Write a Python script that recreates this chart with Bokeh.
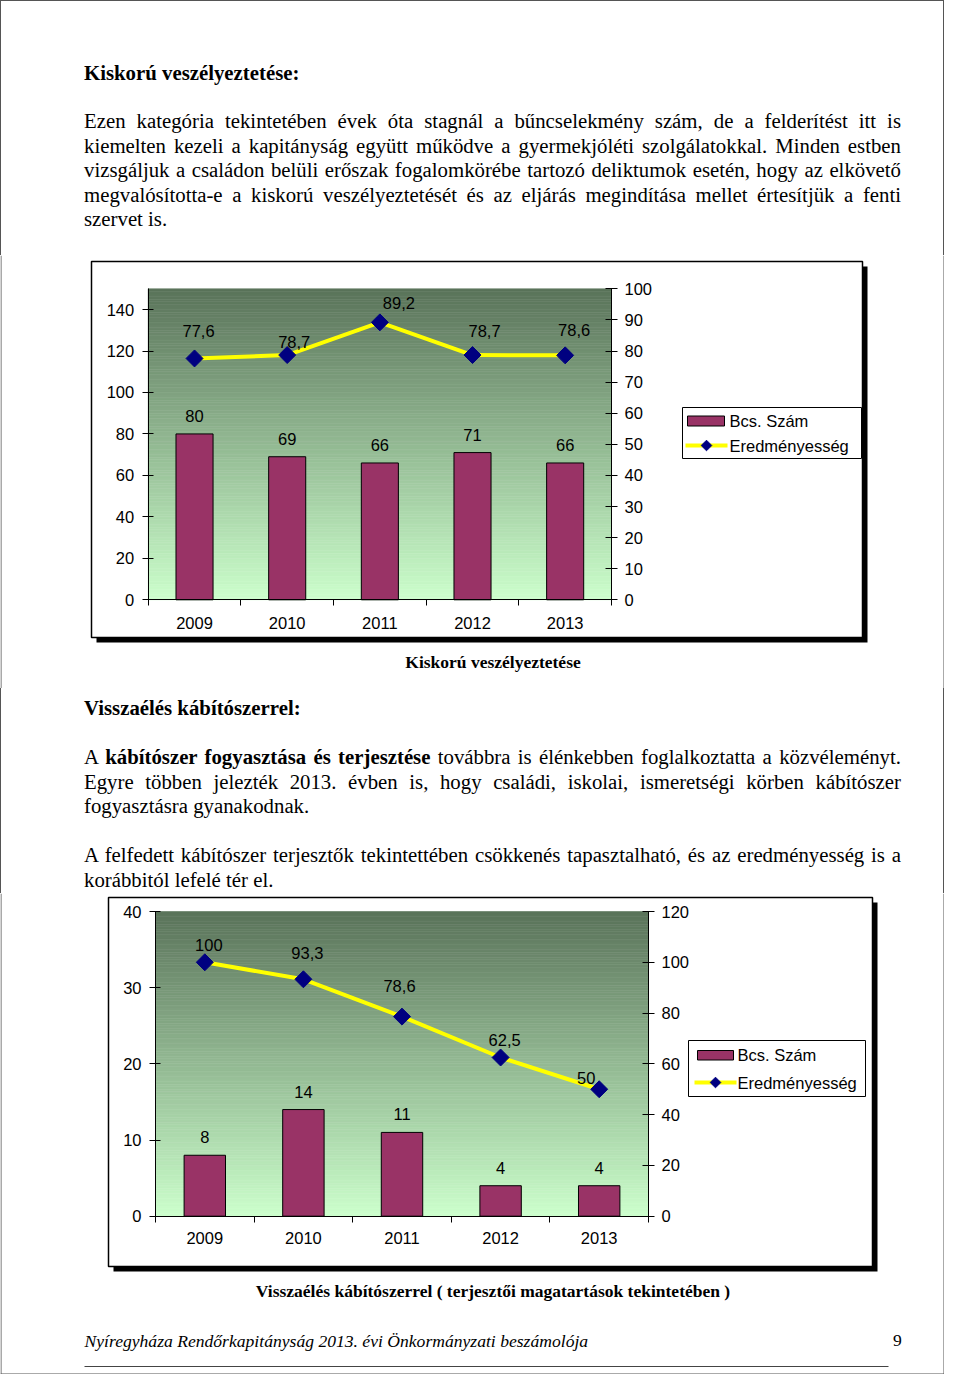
import numpy as np
from bokeh.plotting import figure
from bokeh.models import Range1d, LinearAxis, FixedTicker, Div, ColumnDataSource
from bokeh.layouts import column
from bokeh.core.properties import value
from bokeh.embed import file_html
from bokeh.resources import INLINE

# ---------------- data ----------------
years = ["2009", "2010", "2011", "2012", "2013"]
series_names = ["Bcs. Szám", "Eredményesség"]

kiskoru_bcs = [80, 69, 66, 71, 66]
kiskoru_eredm = [77.6, 78.7, 89.2, 78.7, 78.6]
kiskoru_left_max = 150
kiskoru_left_ticks = [0, 20, 40, 60, 80, 100, 120, 140]
kiskoru_right_max = 100
kiskoru_right_ticks = [0, 10, 20, 30, 40, 50, 60, 70, 80, 90, 100]

kabito_bcs = [8, 14, 11, 4, 4]
kabito_eredm = [100, 93.3, 78.6, 62.5, 50]
kabito_left_max = 40
kabito_left_ticks = [0, 10, 20, 30, 40]
kabito_right_max = 120
kabito_right_ticks = [0, 20, 40, 60, 80, 100, 120]

caption1 = "Kiskorú veszélyeztetése"
caption2 = "Visszaélés kábítószerrel ( terjesztői magatartások tekintetében )"
footer_text = "Nyíregyháza Rendőrkapitányság 2013. évi Önkormányzati beszámolója"
page_no = "9"

# ---------------- styles ----------------
PLUM = "#993366"
YELLOW = "#FFFF00"
NAVY = "#000080"
SANS = "Liberation Sans"
SERIF = "Liberation Serif"
FS = "16.5px"
GRAD_TOP = (90, 115, 90)
GRAD_BOTTOM = (204, 255, 204)
PAGE_W = 944
PAGE_H = 1374
BORDER = "#555555"


def fmt(v):
    return ("%g" % v).replace(".", ",")


def span_range(v0, p0, v1, p1, q0, q1):
    k = (v1 - v0) / (p1 - p0)
    return Range1d(start=v0 + (q0 - p0) * k, end=v0 + (q1 - p0) * k)


def style_axis(ax):
    ax.axis_line_color = "black"
    ax.axis_line_width = 1
    ax.major_tick_line_color = "black"
    ax.major_tick_line_width = 1
    ax.minor_tick_line_color = None
    ax.major_label_text_font = SANS
    ax.major_label_text_font_size = FS
    ax.major_label_text_color = "black"


def make_chart(L, bcs, eredm, lmax, lticks, rmax, rticks, caption, extra=None):
    top, bot = L["fig"]
    p = figure(width=PAGE_W, height=bot - top,
               x_range=Range1d(0, PAGE_W), y_range=Range1d(bot, top),
               x_axis_type=None, y_axis_type=None, toolbar_location=None,
               output_backend="svg", min_border=0, outline_line_color=None,
               border_fill_color="white", background_fill_color="white")
    pl, pr, pt, pb = L["plot"]
    n = len(years)
    p.extra_x_ranges = {"cat": span_range(0, pl, n, pr, 0, PAGE_W)}
    p.extra_y_ranges = {"left": span_range(0, pb, lmax, pt, bot, top),
                        "right": span_range(0, pb, rmax, pt, bot, top)}

    # page side borders
    p.segment(x0=[0.5, PAGE_W - 0.5], y0=[top, top], x1=[0.5, PAGE_W - 0.5],
              y1=[bot, bot], line_color=BORDER, line_width=1)

    # chart box with shadow
    bl, br, bt, bb = L["box"]
    s = L["shadow"]
    p.quad(left=bl + s, right=br + s, top=bt + s, bottom=bb + s,
           fill_color="black", line_color=None)
    p.quad(left=bl, right=br, top=bt, bottom=bb, fill_color="white",
           line_color="black", line_width=1.5)

    # plot-area gradient
    N = 120
    edges = np.linspace(pt, pb, N + 1)
    t = (np.arange(N) + 0.5) / N
    cols = ["#%02x%02x%02x" % tuple(int(round(a + (b - a) * ti))
                                    for a, b in zip(GRAD_TOP, GRAD_BOTTOM)) for ti in t]
    p.quad(left=pl, right=pr, top=edges[:-1], bottom=edges[1:],
           fill_color=cols, line_color=cols, line_width=0.6)

    xs = np.arange(n) + 0.5
    src = ColumnDataSource(dict(
        x=xs, bcs=bcs, er=eredm,
        bl=[fmt(v) for v in bcs], el=[fmt(v) for v in eredm],
        dx=L["line_lbl_dx"], dy=L["line_lbl_dy"]))

    p.vbar(x="x", top="bcs", bottom=0, width=L["bar_w"], source=src,
           fill_color=PLUM, line_color="black", line_width=1,
           x_range_name="cat", y_range_name="left")
    p.line(x="x", y="er", source=src, line_color=YELLOW, line_width=4,
           x_range_name="cat", y_range_name="right")
    p.scatter(x="x", y="er", source=src, marker="square", angle=np.pi / 4,
              size=12, fill_color=NAVY, line_color=NAVY,
              x_range_name="cat", y_range_name="right")

    p.text(x="x", y="bcs", text="bl", source=src, y_offset=L["bar_lbl_dy"],
           text_align="center", text_baseline="middle",
           text_font=value(SANS), text_font_size=FS, text_color="black",
           x_range_name="cat", y_range_name="left")
    p.text(x="x", y="er", text="el", source=src, x_offset="dx", y_offset="dy",
           text_align="center", text_baseline="middle",
           text_font=value(SANS), text_font_size=FS, text_color="black",
           x_range_name="cat", y_range_name="right")

    # axes
    ya = LinearAxis(y_range_name="left", fixed_location=pl, bounds=(0, lmax),
                    ticker=FixedTicker(ticks=lticks),
                    major_tick_in=5, major_tick_out=6, major_label_standoff=8)
    style_axis(ya)
    p.add_layout(ya, "left")
    yr = LinearAxis(y_range_name="right", fixed_location=pr, bounds=(0, rmax),
                    ticker=FixedTicker(ticks=rticks),
                    major_tick_in=6, major_tick_out=6, major_label_standoff=7)
    style_axis(yr)
    p.add_layout(yr, "right")
    xa = LinearAxis(x_range_name="cat", fixed_location=pb, bounds=(0, n),
                    ticker=FixedTicker(ticks=list(range(n + 1))),
                    major_tick_in=0, major_tick_out=6)
    style_axis(xa)
    xa.major_label_text_color = None
    p.add_layout(xa, "below")
    xl = LinearAxis(x_range_name="cat", fixed_location=pb,
                    ticker=FixedTicker(ticks=[float(v) for v in xs]),
                    major_label_overrides={float(v): yy for v, yy in zip(xs, years)},
                    major_tick_in=0, major_tick_out=0,
                    major_label_standoff=L["cat_standoff"])
    style_axis(xl)
    xl.axis_line_color = None
    xl.major_tick_line_color = None
    p.add_layout(xl, "below")

    # legend (Excel-like, right of plot area)
    lg = L["legend"]
    l0, l1, lt, lb = lg["box"]
    p.quad(left=l0, right=l1, top=lt, bottom=lb, fill_color="white",
           line_color="black", line_width=1)
    r0, r1, rt, rb = lg["rect"]
    p.quad(left=r0, right=r1, top=rt, bottom=rb, fill_color=PLUM,
           line_color="black", line_width=1)
    x0, x1, ly = lg["line"]
    p.segment(x0=[x0], y0=[ly], x1=[x1], y1=[ly], line_color=YELLOW, line_width=4)
    p.scatter(x=[(x0 + x1) / 2], y=[ly], marker="square", angle=np.pi / 4,
              size=7.5, fill_color=NAVY, line_color=NAVY)
    p.text(x=[lg["tx"], lg["tx"]], y=[(rt + rb) / 2, ly], text=series_names,
           text_font=value(SANS), text_font_size=FS, text_baseline="middle",
           text_align="left", text_color="black")

    # caption
    cx, cy = L["caption_xy"]
    p.text(x=[cx], y=[cy], text=[caption], text_font=value(SERIF),
           text_font_style="bold", text_font_size="17.5px",
           text_align="center", text_baseline="middle", text_color="black")
    if extra:
        extra(p)
    return p


LAYOUT1 = dict(
    fig=(255, 688),
    box=(91, 862, 261, 637), shadow=5,
    plot=(147.7, 611, 288.3, 599.3),
    bar_w=0.4, bar_lbl_dy=-17.5,
    line_lbl_dx=[4, 7, 19, 12, 9], line_lbl_dy=[-27, -13, -19, -24, -25],
    cat_standoff=17,
    legend=dict(box=(682, 861, 407, 458), rect=(687, 724, 415.5, 425.5),
                line=(685, 727, 445), tx=729),
    caption_xy=(492.5, 661),
)

LAYOUT2 = dict(
    fig=(893, PAGE_H),
    box=(108, 872, 897, 1266), shadow=5,
    plot=(155, 648, 911, 1215.7),
    bar_w=0.42, bar_lbl_dy=-18,
    line_lbl_dx=[4, 4, -2.5, 4, -13], line_lbl_dy=[-17, -26, -31, -17.5, -11],
    cat_standoff=16,
    legend=dict(box=(688, 865, 1040, 1096), rect=(697, 733, 1050, 1059.5),
                line=(694, 736, 1082), tx=737),
    caption_xy=(492.5, 1290),
)


def footer(p):
    p.text(x=[84], y=[1340], text=[footer_text], text_font=value(SERIF),
           text_font_style="italic", text_font_size="17.6px",
           text_align="left", text_baseline="middle", text_color="black")
    p.text(x=[897], y=[1340], text=[page_no], text_font=value(SERIF),
           text_font_size="17.6px", text_align="center", text_baseline="middle",
           text_color="black")
    p.segment(x0=[84], y0=[1366], x1=[888], y1=[1366], line_color="#444444",
              line_width=1)
    p.segment(x0=[0], y0=[PAGE_H - 0.5], x1=[PAGE_W], y1=[PAGE_H - 0.5],
              line_color=BORDER, line_width=1)


p1 = make_chart(LAYOUT1, kiskoru_bcs, kiskoru_eredm, kiskoru_left_max,
                kiskoru_left_ticks, kiskoru_right_max, kiskoru_right_ticks, caption1)
p2 = make_chart(LAYOUT2, kabito_bcs, kabito_eredm, kabito_left_max,
                kabito_left_ticks, kabito_right_max, kabito_right_ticks, caption2,
                extra=footer)

# ---------------- body text ----------------
BODY = ("position:relative;box-sizing:border-box;width:944px;height:%dpx;"
        "border-left:1px solid " + BORDER + ";border-right:1px solid " + BORDER + ";%s"
        "font-family:'Liberation Serif';font-size:20.8px;line-height:24.5px;color:#000;")
J = "text-align:justify;text-align-last:justify;word-spacing:-3px;"
LFT = "text-align:left;"


def block(top, lines, bold=False):
    inner = "".join('<div style="%s">%s</div>' % (J if j else LFT, t) for t, j in lines)
    fw = "font-weight:bold;" if bold else ""
    return ('<div style="position:absolute;left:83px;top:%dpx;width:817px;%s">%s</div>'
            % (top, fw, inner))


para1 = [
    ("Ezen kategória tekintetében évek óta stagnál a bűncselekmény szám, de a felderítést itt is", True),
    ("kiemelten kezeli a kapitányság együtt működve a gyermekjóléti szolgálatokkal. Minden estben", True),
    ("vizsgáljuk a családon belüli erőszak fogalomkörébe tartozó deliktumok esetén, hogy az elkövető", True),
    ("megvalósította-e a kiskorú veszélyeztetését és az eljárás megindítása mellet értesítjük a fenti", True),
    ("szervet is.", False),
]
paraA = [
    ("A <b>kábítószer fogyasztása és terjesztése</b> továbbra is élénkebben foglalkoztatta a közvéleményt.", True),
    ("Egyre többen jelezték 2013. évben is, hogy családi, iskolai, ismeretségi körben kábítószer", True),
    ("fogyasztásra gyanakodnak.", False),
]
paraB = [
    ("A felfedett kábítószer terjesztők tekintettében csökkenés tapasztalható, és az eredményesség is a", True),
    ("korábbitól lefelé tér el.", False),
]

H1, H2 = 255, 205
div1 = Div(width=PAGE_W, height=H1, margin=(0, 0, 0, 0), text=(
    '<div style="%s">' % (BODY % (H1, "border-top:1px solid " + BORDER + ";"))
    + block(60, [("Kiskorú veszélyeztetése:", False)], bold=True)
    + block(108, para1)
    + "</div>"))
div2 = Div(width=PAGE_W, height=H2, margin=(0, 0, 0, 0), text=(
    '<div style="%s">' % (BODY % (H2, ""))
    + block(8, [("Visszaélés kábítószerrel:", False)], bold=True)
    + block(57, paraA)
    + block(155, paraB)
    + "</div>"))

page = column(div1, p1, div2, p2, spacing=0)

open("out.html", "w").write(file_html(page, INLINE))
